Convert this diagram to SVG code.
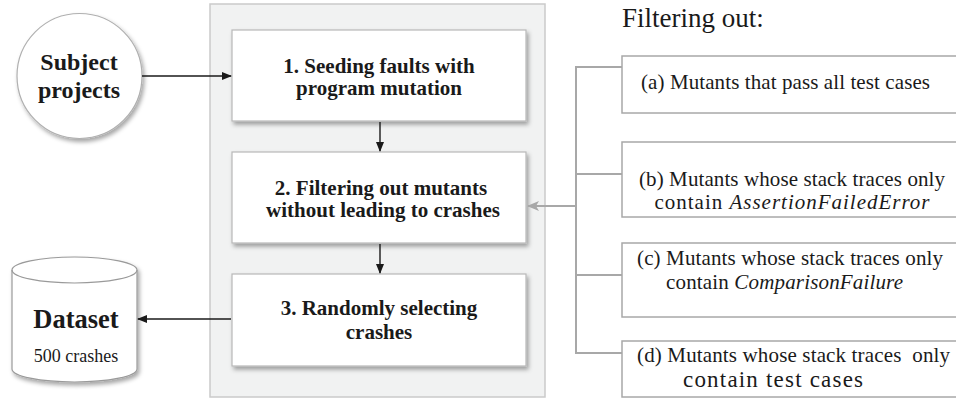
<svg xmlns="http://www.w3.org/2000/svg" width="956" height="401" viewBox="0 0 956 401">
<defs>
<style>
.b{font-family:'Liberation Serif','Times New Roman',serif;font-weight:bold;fill:#1a1a1a;text-anchor:middle}
.r{font-family:'Liberation Serif','Times New Roman',serif;fill:#1a1a1a;text-anchor:middle;font-size:21px}
.i{font-style:italic}
.box{fill:#fff;stroke:#b8b8b8;stroke-width:1.2}
.rbox{fill:#fff;stroke:#a8a8a8;stroke-width:1.5}
.dk{stroke:#1a1a1a;stroke-width:1.4;fill:none}
.gy{stroke:#a8a8a8;stroke-width:2;fill:none}
</style>
<filter id="sh" x="-10%" y="-10%" width="130%" height="130%">
<feDropShadow dx="2" dy="3" stdDeviation="2" flood-color="#000" flood-opacity="0.35"/>
</filter>
<marker id="ad" markerWidth="10" markerHeight="10" refX="9" refY="5" orient="auto" markerUnits="userSpaceOnUse">
<path d="M0,1 L10,5 L0,9 Z" fill="#1a1a1a"/>
</marker>
<marker id="ag" markerWidth="12" markerHeight="12" refX="11" refY="6" orient="auto" markerUnits="userSpaceOnUse">
<path d="M0,1 L12,6 L0,11 L3,6 Z" fill="#a8a8a8"/>
</marker>
</defs>
<rect width="956" height="401" fill="#fff"/>

<g id="container">
<rect x="210" y="4" width="335" height="393" fill="#f1f2f2" stroke="#cacaca" stroke-width="1.5"/>
</g>

<g id="subject">
<circle cx="79.5" cy="76" r="62.5" fill="#fff" stroke="#b0b0b0" stroke-width="1.2" filter="url(#sh)"/>
<text class="b" x="79" y="70" font-size="24">Subject</text>
<text class="b" x="79" y="98" font-size="24">projects</text>
</g>

<g id="step1">
<rect class="box" x="232" y="30" width="294" height="91" filter="url(#sh)"/>
<text class="b" x="379" y="73" font-size="21">1. Seeding faults with</text>
<text class="b" x="379" y="95" font-size="21">program mutation</text>
</g>

<g id="step2">
<rect class="box" x="232" y="152" width="294" height="91" filter="url(#sh)"/>
<text class="b" x="381" y="195" font-size="21">2. Filtering out mutants</text>
<text class="b" x="383" y="217" font-size="21">without leading to crashes</text>
</g>

<g id="step3">
<rect class="box" x="232" y="274" width="294" height="92" filter="url(#sh)"/>
<text class="b" x="379" y="315" font-size="21">3. Randomly selecting</text>
<text class="b" x="379" y="339" font-size="21">crashes</text>
</g>

<g id="dataset">
<g filter="url(#sh)">
<path d="M12,270 L12,369 A62.5,13 0 0 0 137,369 L137,270 A62.5,13 0 0 0 12,270 Z" fill="#fff" stroke="#9a9a9a" stroke-width="1.2"/>
</g>
<path d="M12,270 A62.5,13 0 0 0 137,270" fill="none" stroke="#9a9a9a" stroke-width="1.2"/>
<text class="b" x="76" y="328" font-size="26.5">Dataset</text>
<text class="r" x="76" y="362" style="font-size:18px">500 crashes</text>
</g>

<g id="filter-title">
<text x="622" y="27" font-family="'Liberation Serif','Times New Roman',serif" font-size="27" fill="#1a1a1a">Filtering out:</text>
</g>

<g id="fa">
<rect class="rbox" x="622" y="56" width="345" height="57"/>
<text class="r" x="785.5" y="89" textLength="289" lengthAdjust="spacing">(a) Mutants that pass all test cases</text>
</g>
<g id="fb">
<rect class="rbox" x="622" y="142" width="345" height="75"/>
<text class="r" x="792" y="186" textLength="306" lengthAdjust="spacing">(b) Mutants whose stack traces only</text>
<text class="r" x="792" y="209" textLength="275" lengthAdjust="spacing">contain <tspan class="i">AssertionFailedError</tspan></text>
</g>
<g id="fc">
<rect class="rbox" x="622" y="243" width="345" height="74"/>
<text class="r" x="790" y="265" textLength="306" lengthAdjust="spacing">(c) Mutants whose stack traces only</text>
<text class="r" x="784.5" y="289" textLength="237" lengthAdjust="spacing">contain <tspan class="i">ComparisonFailure</tspan></text>
</g>
<g id="fd">
<rect class="rbox" x="622" y="341" width="345" height="56"/>
<text class="r" x="793.5" y="362" style="white-space:pre" textLength="313" lengthAdjust="spacing">(d) Mutants whose stack traces  only</text>
<text class="r" x="773" y="387" style="font-size:23px" textLength="180" lengthAdjust="spacing">contain test cases</text>
</g>

<g id="connectors">
<line class="dk" x1="142" y1="76" x2="231" y2="76" marker-end="url(#ad)"/>
<line class="dk" x1="380" y1="122" x2="380" y2="151" marker-end="url(#ad)"/>
<line class="dk" x1="380" y1="244" x2="380" y2="273" marker-end="url(#ad)"/>
<line class="dk" x1="231" y1="319" x2="138" y2="319" marker-end="url(#ad)"/>
<path class="gy" d="M622,67 H576 V353 H622 M576,174 H622 M576,275 H622"/>
<line class="gy" x1="576" y1="206" x2="528" y2="206" marker-end="url(#ag)"/>
</g>
</svg>
